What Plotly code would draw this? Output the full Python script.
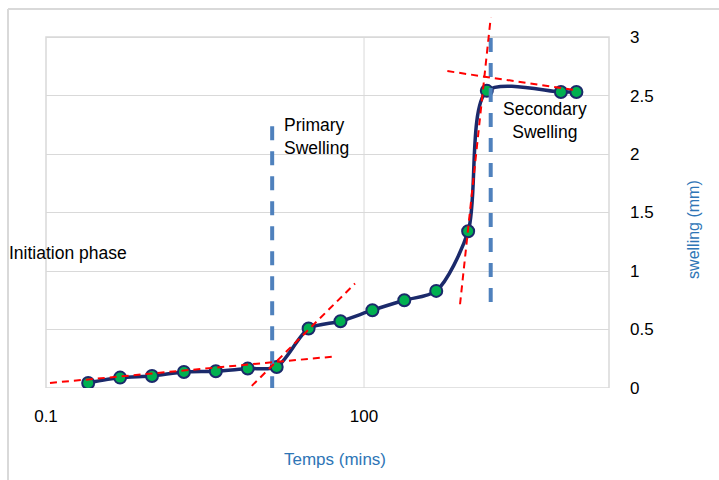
import plotly.graph_objects as go

# Data
time_min = [0.25, 0.5, 1, 2, 4, 8, 15, 30, 60, 120, 240, 480, 960, 1440, 7200, 10080]
swelling = [0.043, 0.089, 0.103, 0.137, 0.143, 0.166, 0.18, 0.508, 0.571, 0.665, 0.75, 0.83, 1.34, 2.54, 2.53, 2.53]

# tangent (red dashed) lines
tan_init_x = [0.109, 55.2]
tan_init_y = [0.043, 0.271]
tan_prim_x = [7.26, 82.2]
tan_prim_y = [-0.054, 0.893]
tan_steep_x = [805, 1567]
tan_steep_y = [0.716, 3.165]
tan_sec_x = [611, 9770]
tan_sec_y = [2.709, 2.547]

# phase boundaries (blue dashed)
phase1_x = [13.6, 13.6]
phase1_y = [-0.02, 2.27]
phase2_x = [1567, 1567]
phase2_y = [0.736, 3.017]

grid_x = [100, 100]
grid_y = [0, 3]

y_ticks = [0, 0.5, 1, 1.5, 2, 2.5, 3]
y_ticktext = ["0", "0.5", "1", "1.5", "2", "2.5", "3"]
x_ticks = [0.1, 100]
x_ticktext = ["0.1", "100"]

FONT = "Liberation Sans, Arial, sans-serif"
RED = "#FF0000"
BLUE_DASH = "#4F81BD"
NAVY = "#1B2A6B"
GREEN = "#00B050"
TITLE_BLUE = "#2E75B6"
GRID = "#D9D9D9"

fig = go.Figure()

fig.add_trace(go.Scatter(x=grid_x, y=grid_y, mode="lines",
                         line=dict(color=GRID, width=1), hoverinfo="skip", showlegend=False))

fig.add_trace(go.Scatter(
    x=time_min, y=swelling, mode="lines+markers",
    line=dict(color=NAVY, width=3.5, shape="spline", smoothing=0.8),
    marker=dict(size=12, color=GREEN, line=dict(color=NAVY, width=2)),
    showlegend=False))

for xs, ys in [(phase1_x, phase1_y), (phase2_x, phase2_y)]:
    fig.add_trace(go.Scatter(x=xs, y=ys, mode="lines",
                             line=dict(color=BLUE_DASH, width=4, dash="14px,11px"),
                             hoverinfo="skip", showlegend=False))

for xs, ys in [(tan_init_x, tan_init_y), (tan_prim_x, tan_prim_y),
               (tan_steep_x, tan_steep_y), (tan_sec_x, tan_sec_y)]:
    fig.add_trace(go.Scatter(x=xs, y=ys, mode="lines",
                             line=dict(color=RED, width=2, dash="7px,5px"),
                             hoverinfo="skip", showlegend=False))

fig.update_layout(
    width=719, height=480,
    margin=dict(l=46, r=110, t=16, b=92),
    paper_bgcolor="white", plot_bgcolor="white",
    font=dict(family=FONT, size=17, color="black"),
    xaxis=dict(type="log", range=[-1, 4.311], tickvals=x_ticks, ticktext=x_ticktext,
               showgrid=False, zeroline=False, showline=False, ticks="",
               ticklabelstandoff=16, tickfont=dict(size=17)),
    yaxis=dict(side="right", range=[0, 3.18], tickvals=y_ticks, ticktext=y_ticktext,
               showgrid=True, gridcolor=GRID, gridwidth=1, zeroline=False,
               showline=False, ticks="", ticklabelstandoff=20, tickfont=dict(size=17)),
    shapes=[
        dict(type="rect", xref="paper", yref="y", x0=0, x1=1, y0=0, y1=3,
             line=dict(color=GRID, width=1.5), layer="below"),
        dict(type="line", xref="paper", yref="paper", x0=-0.0675, x1=1.4, y0=1.019, y1=1.019,
             line=dict(color=GRID, width=2)),
        dict(type="line", xref="paper", yref="paper", x0=-0.0675, x1=-0.0675, y0=1.019, y1=-0.4,
             line=dict(color=GRID, width=2)),
    ],
    annotations=[
        dict(text="Primary<br>Swelling", xref="paper", yref="paper", x=0.419, y=0.675,
             xanchor="left", yanchor="middle", align="left", showarrow=False,
             font=dict(size=17.5, color="black")),
        dict(text="Secondary<br>Swelling", xref="paper", yref="paper", x=0.887, y=0.720,
             xanchor="center", yanchor="middle", align="center", showarrow=False,
             font=dict(size=17.5, color="black")),
        dict(text="Initiation phase", xref="paper", yref="paper", x=-0.07, y=0.363,
             xanchor="left", yanchor="middle", showarrow=False,
             font=dict(size=17.5, color="black")),
        dict(text="Temps (mins)", xref="paper", yref="paper", x=0.513, y=-0.1935,
             xanchor="center", yanchor="middle", showarrow=False,
             font=dict(size=17, color=TITLE_BLUE)),
        dict(text="swelling (mm)", xref="paper", yref="paper", x=1.149, y=0.4274,
             xanchor="center", yanchor="middle", textangle=-90, showarrow=False,
             font=dict(size=16, color=TITLE_BLUE)),
    ],
)

fig.write_html("out.html", config={"displayModeBar": False})

# remove the browser's default page margin so the figure sits at (0, 0)
with open("out.html", "r", encoding="utf-8") as f:
    html = f.read()
html = html.replace("<body>", '<body style="margin:0;padding:0;overflow:hidden">', 1)
with open("out.html", "w", encoding="utf-8") as f:
    f.write(html)
